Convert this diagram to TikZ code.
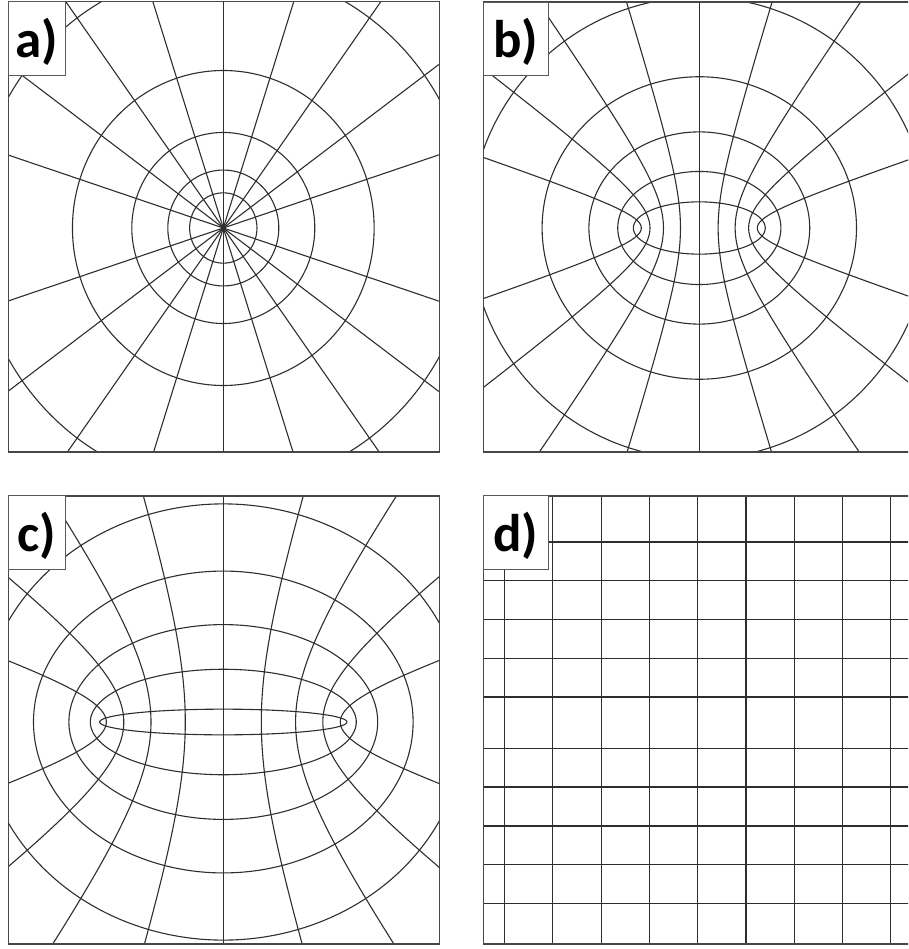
\documentclass[tikz,border=0pt]{standalone}
\usepackage{fontspec}
\setmainfont{Carlito}
\begin{document}
\begin{tikzpicture}[x=1pt,y=-1pt,
  gl/.style={draw=black!82, line width=1.1pt},
  frm/.style={draw=black!72, line width=1.6pt},
  lbox/.style={draw=black!65, fill=white, line width=0.8pt},
  ltxt/.style={font=\fontsize{53}{53}\selectfont\bfseries, inner sep=0pt, anchor=base}]
\useasboundingbox (0,0) rectangle (908,949);
\clip (0,0) rectangle (908,949);

% ---------- panel a : polar ----------
\begin{scope}
  \clip (8.3,1.7) rectangle (439.3,451.7);
  \begin{scope}[shift={(223.3,228)}, x=215.5pt, y=225pt]
    \foreach \r in {0.1562,0.2575,0.4246,0.7000,1.1541}
      \draw[gl, variable=\t, domain=0:360, samples=145, smooth]
        plot ({\r*cos(\t)},{\r*sin(\t)});
    \foreach \n in {18,36,54,72,90,108,126,144,162,198,216,234,252,270,288,306,324,342}
      \draw[gl] (0,0) -- (\n:1.7);
  \end{scope}
\end{scope}

% ---------- panel b : elliptic, small foci ----------
\begin{scope}
  \clip (483.3,2) rectangle (914.3,452);
  \begin{scope}[shift={(699.3,228)}, x=215.5pt, y=225pt]
    \foreach \m in {0.4,0.8,1.2,1.6,2.0}
      \draw[gl, variable=\t, domain=0:360, samples=145, smooth]
        plot ({0.283*cosh(\m)*cos(\t)},{0.283*sinh(\m)*sin(\t)});
    \foreach \n in {18,36,54,72,90,108,126,144,162,198,216,234,252,270,288,306,324,342}
      \draw[gl, variable=\u, domain=0:2.8, samples=90, smooth]
        plot ({0.283*cosh(\u)*cos(\n)},{0.283*sinh(\u)*sin(\n)});
  \end{scope}
\end{scope}

% ---------- panel c : elliptic, larger foci ----------
\begin{scope}
  \clip (8.3,495.7) rectangle (439.3,944);
  \begin{scope}[shift={(223.3,722)}, x=215.5pt, y=225pt]
    \foreach \m in {0.1,0.4,0.7,1.0,1.3}
      \draw[gl, variable=\t, domain=0:360, samples=181, smooth]
        plot ({0.5708*cosh(\m)*cos(\t)},{0.5708*sinh(\m)*sin(\t)});
    \foreach \n in {18,36,54,72,90,108,126,144,162,198,216,234,252,270,288,306,324,342}
      \draw[gl, variable=\u, domain=0:2.0, samples=90, smooth]
        plot ({0.5708*cosh(\u)*cos(\n)},{0.5708*sinh(\u)*sin(\n)});
  \end{scope}
\end{scope}

% ---------- panel d : cartesian ----------
\begin{scope}
  \clip (483.3,495.7) rectangle (914.3,944);
  \foreach \xx in {504.6,552.9,601.1,649.4,697.7,746.0,794.2,842.5,890.8}
    \draw[gl] (\xx,495.7) -- (\xx,944);
  \foreach \yy in {542,580.7,619.3,658.3,697,748.3,787,826,864.7,903.3}
    \draw[gl] (483.3,\yy) -- (914.3,\yy);
\end{scope}

% ---------- frames ----------
\draw[frm] (8.3,1.7) rectangle (439.3,451.7);
\draw[frm] (483.3,2) rectangle (914.3,452);
\draw[frm] (8.3,495.7) rectangle (439.3,944);
\draw[frm] (483.3,495.7) rectangle (914.3,944);

% ---------- labels ----------
\draw[lbox] (8.3,1.7) rectangle (65,75);
\node[ltxt] (la) at (36.6,57.5) {a)};
\draw[lbox] (483.3,2) rectangle (548.3,75);
\node[ltxt] (lb) at (515.8,57.5) {b)};
\draw[lbox] (8.3,495.7) rectangle (65,569.3);
\node[ltxt] (lc) at (36.6,551.7) {c)};
\draw[lbox] (483.3,495.7) rectangle (548.3,569.3);
\node[ltxt] (ld) at (515.8,551.7) {d)};
\end{tikzpicture}
\end{document}
